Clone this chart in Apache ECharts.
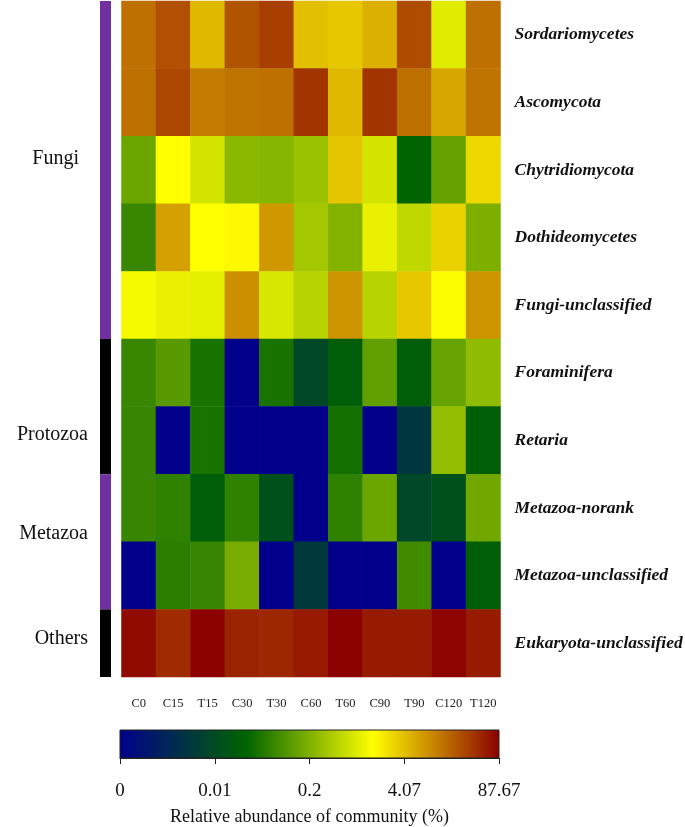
<!DOCTYPE html>
<html>
<head>
<meta charset="utf-8">
<script src="https://cdn.jsdelivr.net/npm/echarts@6/dist/echarts.min.js"></script>
<style>
html,body{margin:0;padding:0;background:#fff;}
#chart{width:685px;height:827px;}
</style>
</head>
<body>
<div id="chart"></div>
<script>
// ---- data ----
var samples = ['C0','C15','T15','C30','T30','C60','T60','C90','T90','C120','T120'];
var taxa = ['Sordariomycetes','Ascomycota','Chytridiomycota','Dothideomycetes','Fungi-unclassified',
            'Foraminifera','Retaria','Metazoa-norank','Metazoa-unclassified','Eukaryota-unclassified'];
// relative abundance (%) per taxon, one value per sample
var sordariomycetes = [14.3, 24.1, 4.6, 22.7, 31.8, 4.07, 3.6, 5.2, 25.7, 0.90, 14.3];
var ascomycota      = [14.3, 28.2, 11.9, 13.9, 14.3, 38.3, 4.6, 38.3, 14.8, 5.9, 13.9];
var chytridiomycota = [0.144, 1.49, 0.75, 0.24, 0.225, 0.31, 3.72, 0.75, 0.027, 0.132, 2.75];
var dothideomycetes = [0.066, 6.65, 1.49, 1.65, 7.5, 0.35, 0.21, 1.05, 0.54, 3.1, 0.188];
var fungiUnclass    = [1.30, 1.05, 0.99, 8.77, 0.80, 0.48, 8.2, 0.49, 3.6, 1.42, 8.2];
var foraminifera    = [0.066, 0.107, 0.040, 0, 0.040, 0.0096, 0.021, 0.124, 0.021, 0.136, 0.254];
var retaria         = [0.064, 0, 0.040, 0, 0, 0, 0.037, 0, 0.0074, 0.27, 0.021];
var metazoaNorank   = [0.064, 0.057, 0.021, 0.057, 0.0123, 0, 0.057, 0.144, 0.0096, 0.0123, 0.157];
var metazoaUnclass  = [0, 0.0535, 0.064, 0.177, 0, 0.0076, 0, 0, 0.0744, 0, 0.021];
var eukaryotaUnclass= [72.9, 43.3, 85.0, 49.0, 46.0, 58.8, 85.0, 57.0, 57.0, 82.5, 57.0];
var rows = [sordariomycetes, ascomycota, chytridiomycota, dothideomycetes, fungiUnclass,
            foraminifera, retaria, metazoaNorank, metazoaUnclass, eukaryotaUnclass];
// colour-scale breaks (tick labels of the colour bar)
var scaleTicks = [0, 0.01, 0.2, 4.07, 87.67];
var scaleTickLabels = ['0', '0.01', '0.2', '4.07', '87.67'];
var groupNames = ['Fungi', 'Protozoa', 'Metazoa', 'Others'];
var groupSizes = [5, 2, 2, 1];
var scaleColors = ['#00008B', '#006400', '#FFFF00', '#8B0000'];

// ---- layout (not data) ----
var G = {left: 121.5, top: 1, width: 379, height: 676};
var CB = {left: 120, top: 730, width: 379, height: 28};
var groupColors = ['#7030A0', '#000000', '#7030A0', '#000000'];
var groupLabelPos = [[79, 159], [88, 435], [88, 534], [88, 639]];

// map an abundance onto the position of the colour bar (0..4, one unit per tick)
function level(v) {
  if (v <= scaleTicks[1]) return v / scaleTicks[1];
  for (var i = 1; i < scaleTicks.length - 1; i++) {
    if (v <= scaleTicks[i + 1]) {
      return i + Math.log(v / scaleTicks[i]) / Math.log(scaleTicks[i + 1] / scaleTicks[i]);
    }
  }
  return scaleTicks.length - 1;
}

var data = [];
rows.forEach(function (r, yi) {
  r.forEach(function (v, xi) { data.push([xi, yi, level(v), v]); });
});

var serif = '"Liberation Serif", "Times New Roman", serif';
var graphics = [];
var rowH = G.height / taxa.length;
var acc = 0;
groupSizes.forEach(function (n, i) {
  graphics.push({
    type: 'rect', silent: true,
    shape: {x: 100, y: G.top + acc * rowH, width: 11, height: n * rowH},
    style: {fill: groupColors[i]}
  });
  acc += n;
  graphics.push({
    type: 'text', silent: true,
    x: groupLabelPos[i][0], y: groupLabelPos[i][1],
    style: {text: groupNames[i], fill: '#111', font: '20px ' + serif, align: 'right', verticalAlign: 'middle'}
  });
});

// colour bar: background of the second grid, gradient from the same colour stops
var barGradient = new echarts.graphic.LinearGradient(0, 0, 1, 0, scaleColors.map(function (c, i) {
  return {offset: i / (scaleColors.length - 1), color: c};
}));

var chart = echarts.init(document.getElementById('chart'), null, {renderer: 'canvas'});
chart.setOption({
  animation: false,
  backgroundColor: '#fff',
  grid: [
    {left: G.left, top: G.top, width: G.width, height: G.height, outerBoundsMode: 'none', containLabel: false},
    {left: CB.left, top: CB.top, width: CB.width, height: CB.height, outerBoundsMode: 'none', containLabel: false,
     show: true, borderColor: '#222', borderWidth: 1, backgroundColor: barGradient, z: 0}
  ],
  xAxis: [
    {type: 'category', data: samples, gridIndex: 0,
     axisLine: {show: false}, axisTick: {show: false}, splitArea: {show: false},
     axisLabel: {interval: 0, fontFamily: serif, fontSize: 12.5, color: '#222', margin: 20}},
    {type: 'value', gridIndex: 1, min: 0, max: 4, interval: 1, position: 'bottom',
     axisLine: {show: true, onZero: false, lineStyle: {color: '#222', width: 1}}, splitLine: {show: false},
     axisTick: {show: true, inside: false, length: 6, lineStyle: {color: '#222', width: 1}},
     axisLabel: {fontFamily: serif, fontSize: 19, color: '#111', margin: 24,
                 formatter: function (v) { return scaleTickLabels[v]; }},
     name: 'Relative abundance of community (%)', nameLocation: 'middle', nameGap: 50,
     nameTextStyle: {fontFamily: serif, fontSize: 18, color: '#111'}}
  ],
  yAxis: [
    {type: 'category', data: taxa, gridIndex: 0, inverse: true, position: 'right',
     axisLine: {show: false}, axisTick: {show: false},
     axisLabel: {fontFamily: serif, fontSize: 17.5, fontStyle: 'italic', fontWeight: 'bold', color: '#111', margin: 14}},
    {type: 'value', gridIndex: 1, show: false, min: 0, max: 1}
  ],
  visualMap: {
    type: 'continuous', min: 0, max: 4, dimension: 2, seriesIndex: 0, show: false,
    inRange: {color: scaleColors}
  },
  graphic: graphics,
  series: [{
    type: 'heatmap', xAxisIndex: 0, yAxisIndex: 0, data: data,
    itemStyle: {borderWidth: 0}, emphasis: {disabled: true}
  }]
});
</script>
</body>
</html>
